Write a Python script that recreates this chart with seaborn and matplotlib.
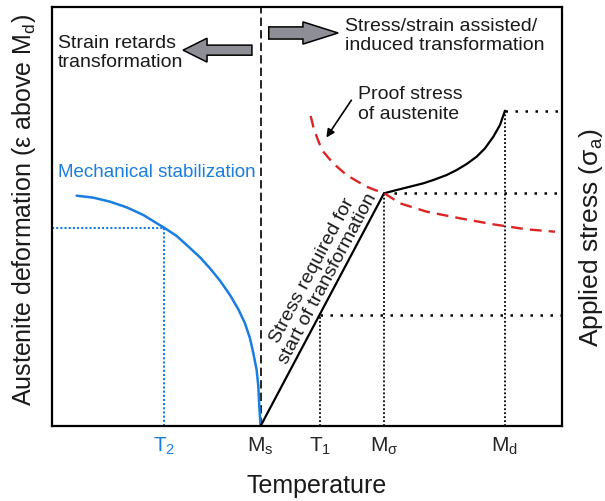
import matplotlib
matplotlib.use('Agg')
import matplotlib.pyplot as plt
import matplotlib.patches as mpatches
import matplotlib.transforms as mtransforms
import seaborn as sns

# temperature marks on the x axis
tick_pos = [22, 40.9, 52.5, 65.1, 88.8]
tick_labels = [r'$\mathrm{T_2}$', r'$\mathrm{M_s}$', r'$\mathrm{T_1}$',
               r'$\mathrm{M_\sigma}$', r'$\mathrm{M_d}$']

# mechanical stabilization curve (blue)
stab_x = [4.84, 8.10, 11.37, 14.64, 17.91, 22.16, 24.44, 26.41, 29.02, 30.98,
          32.94, 34.90, 36.54, 37.84, 38.82, 39.48, 40.13, 40.46, 40.65, 40.9]
stab_y = [54.97, 54.50, 53.54, 52.19, 50.36, 47.18, 45.35, 43.20, 40.26, 37.63,
          34.69, 31.26, 27.85, 24.50, 20.92, 17.34, 13.37, 9.39, 4.61, 0.0]

# stress required for start of transformation (straight part + curve up to Md)
start_x = [40.9, 65.1]
start_y = [0.0, 55.53]
assist_x = [65.10, 67.58, 70.20, 72.81, 74.77, 77.39, 79.35, 81.31, 83.27,
            84.90, 86.54, 87.84, 88.82]
assist_y = [55.53, 56.32, 57.12, 57.92, 58.71, 59.90, 61.10, 62.53, 64.28,
            66.27, 69.05, 71.84, 75.26]

# proof stress of austenite (red dashed)
proof_x = [50.72, 51.24, 51.90, 52.55, 53.20, 54.18, 55.16, 56.47, 57.78, 59.74,
           61.70, 63.33, 64.97, 68.24, 73.47, 80.0, 86.53, 93.07, 98.63]
proof_y = [73.99, 71.44, 69.05, 67.06, 65.47, 64.04, 62.69, 61.26, 59.90, 58.47,
           57.12, 56.32, 55.69, 53.15, 51.15, 49.57, 48.13, 46.94, 46.37]

T2_level = 47.18
T1_level = 26.5

sns.set_theme(style='white')
plt.rcParams['font.family'] = ['Liberation Sans', 'DejaVu Sans']
plt.rcParams['mathtext.fontset'] = 'custom'
plt.rcParams['mathtext.rm'] = 'Liberation Sans'
plt.rcParams['mathtext.it'] = 'Liberation Sans:italic'
plt.rcParams['text.color'] = '#1a1a1a'

blue = '#1a7de0'
red = '#dc2424'

fig = plt.figure(figsize=(6.05, 5.01), dpi=100)
ax = fig.add_axes([52/605, 1-426/501, 510/605, 419/501])
ax.set_xlim(0, 100)
ax.set_ylim(0, 100)

# guide lines
ax.axvline(tick_pos[1], color='black', lw=1.2, ls=(0, (5, 2.5)))
ax.plot([0, tick_pos[0]], [T2_level, T2_level], color=blue, lw=1.5, ls=(0, (1, 1)))
ax.plot([tick_pos[0], tick_pos[0]], [0, T2_level], color=blue, lw=1.5, ls=(0, (1, 1)))
ax.plot([tick_pos[2], tick_pos[2]], [0, T1_level], color='black', lw=1.3, ls=(0, (1, 1.2)))
ax.plot([tick_pos[3], tick_pos[3]], [0, assist_y[0]], color='black', lw=1.3, ls=(0, (1, 1.2)))
ax.plot([tick_pos[4], tick_pos[4]], [0, assist_y[-1]], color='black', lw=1.3, ls=(0, (1, 1.2)))
ax.plot([tick_pos[2], 100], [T1_level, T1_level], color='black', lw=1.8, ls=(0, (1, 3)))
ax.plot([tick_pos[3], 100], [assist_y[0], assist_y[0]], color='black', lw=1.8, ls=(0, (1, 3)))
ax.plot([tick_pos[4], 100], [assist_y[-1], assist_y[-1]], color='black', lw=1.8, ls=(0, (1, 3)))

# curves
sns.lineplot(x=stab_x, y=stab_y, sort=False, color=blue, lw=1.8, ax=ax)
sns.lineplot(x=start_x, y=start_y, sort=False, color='black', lw=1.6, ax=ax)
sns.lineplot(x=assist_x, y=assist_y, sort=False, color='black', lw=1.6, ax=ax)
sns.lineplot(x=proof_x, y=proof_y, sort=False, color=red, lw=1.7, ls=(0, (5, 3)), ax=ax)

# block arrows
ax.add_patch(mpatches.FancyArrow(39.2, 89.7, -13.5, 0, width=2.4, head_width=5.7,
                                 head_length=4.7, length_includes_head=True,
                                 fc='#8e8e96', ec='black', lw=1.1))
ax.add_patch(mpatches.FancyArrow(42.5, 93.8, 13.6, 0, width=2.9, head_width=5.3,
                                 head_length=6.9, length_includes_head=True,
                                 fc='#8e8e96', ec='black', lw=1.1))

# annotations
ax.text(1.2, 89.0, 'Strain retards\ntransformation', fontsize=14, va='center', ha='left')
ax.text(57.5, 93.1, 'Stress/strain assisted/\ninduced transformation', fontsize=14,
        va='center', ha='left')
ax.text(60.0, 76.8, 'Proof stress\nof austenite', fontsize=14, va='center', ha='left')
ax.annotate('', xy=(53.5, 68.3), xytext=(59.0, 78.3),
            arrowprops=dict(arrowstyle='-|>', color='black', lw=1.2, mutation_scale=12))
ax.text(1.2, 60.4, 'Mechanical stabilization', fontsize=13.5, color=blue, va='center', ha='left')
ax.text(52.6, 36.2, 'Stress required for\nstart of transformation', fontsize=14,
        rotation=62, rotation_mode='anchor', ha='center', va='center', linespacing=1.0)

ax.set_xticks(tick_pos)
ax.set_xticklabels(tick_labels, fontsize=15)
ax.get_xticklabels()[0].set_color(blue)
shift = mtransforms.ScaledTranslation(4/100, 0, fig.dpi_scale_trans)
for lbl in ax.get_xticklabels():
    lbl.set_transform(lbl.get_transform() + shift)
ax.set_yticks([])
ax.tick_params(axis='x', length=0, pad=7)
for s in ax.spines.values():
    s.set_visible(True)
    s.set_color('black')
    s.set_linewidth(1.6)

fig.text(317/605, 1-486/501, 'Temperature', fontsize=18, ha='center', va='center')
fig.text(24/605, 1-210/501, r'Austenite deformation (ε above $\mathrm{M_d}$)', fontsize=18,
         rotation=90, ha='center', va='center')
fig.text(591/605, 1-238/501, r'Applied stress ($\mathrm{\sigma_a}$)', fontsize=19,
         rotation=90, ha='center', va='center')

fig.savefig('out.png', dpi=100)
